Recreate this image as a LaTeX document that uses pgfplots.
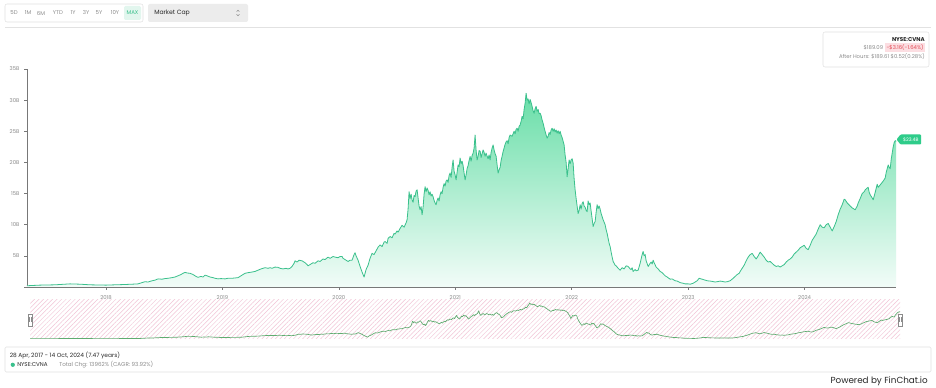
\documentclass[border=0pt]{standalone}
\usepackage{pgfplots}
\pgfplotsset{compat=1.18}
\usepackage{pgfplotstable}
\usepackage{fontspec}
\setmainfont{Poppins}
\usetikzlibrary{patterns.meta}
\definecolor{linegreen}{RGB}{58,192,140}
\definecolor{filltop}{RGB}{105,222,168}
\definecolor{fillbot}{RGB}{242,252,248}
\definecolor{navline}{RGB}{95,172,112}
\definecolor{navpink}{RGB}{242,196,214}
\definecolor{taggreen}{RGB}{46,204,138}
\definecolor{bordergray}{RGB}{226,226,226}
\definecolor{graybg}{RGB}{236,236,236}
\definecolor{mintbg}{RGB}{226,246,238}
\definecolor{txtgray}{RGB}{140,140,140}
\definecolor{txtdark}{RGB}{40,40,40}
\definecolor{redtxt}{RGB}{225,70,80}
\definecolor{redbg}{RGB}{252,222,226}
\definecolor{axgray}{RGB}{120,120,120}

% px = horizontal position reading (converted to years below), b = market cap in billions USD
\pgfplotstableread{
px b
27 0.2
40 0.3
55 0.35
70 0.5
80 0.45
90 0.35
106 0.3
115 0.35
125 0.4
132 0.45
138 0.5
142 0.7
145 0.85
148 0.8
152 1.0
155 1.1
158 1.3
162 1.25
165 1.35
168 1.4
172 1.5
175 1.6
178 1.8
181 2.0
183 2.2
185 2.35
187 2.25
190 2.2
193 2.0
196 1.7
198 1.55
201 1.7
203 1.6
205 1.9
207 1.8
210 1.6
213 1.5
215 1.4
218 1.3
221 1.35
225 1.3
228 1.4
232 1.4
235 1.45
238 1.5
241 1.8
243 2.0
245 2.2
248 2.3
252 2.4
255 2.5
258 2.7
261 2.9
263 3.0
265 3.1
268 3.0
270 3.1
272 3.0
275 3.2
278 3.15
280 3.0
283 2.9
286 3.0
288 2.9
290 3.0
292 3.3
294 3.8
295 4.2
297 4.0
299 4.3
302 4.2
304 4.0
305 3.9
307 3.6
308 3.4
310 3.6
313 3.9
315 3.8
318 4.2
320 4.1
323 4.5
325 4.4
328 4.8
330 4.6
333 4.9
335 4.8
338 4.7
340 4.9
342 4.9
343 4.6
345 4.4
347 4.2
348 4.1
350 4.3
352 4.3
354 5.2
355 5.5
356 5.0
358 4.3
360 3.3
362 2.4
364 1.6
366 2.8
368 3.5
370 4.6
372 5.4
374 5.2
376 5.8
378 6.4
380 6.75
382 6.5
384 7.2
385 7.3
387 7.0
388 7.8
390 8.1
392 7.9
394 8.6
395 8.5
397 9.0
398 8.8
400 9.4
402 9.9
404 9.6
406 10.3
407 10.8
408 12.5
409 15.3
410 14.2
411 14.9
412 14.0
413 13.6
414 14.7
415 14.5
416 15.4
417 15.6
418 14.3
419 13.0
420 12.4
421 12.9
422 11.6
423 12.8
424 14.9
425 16.1
426 15.3
427 15.9
428 15.5
429 14.8
430 15.3
431 14.6
432 14.9
433 14.5
434 13.9
435 13.5
436 13.2
437 13.9
438 14.3
439 13.8
440 14.8
441 15.3
442 15.0
443 16.0
444 16.6
445 16.2
446 17.0
447 17.2
448 16.8
449 17.9
450 18.3
451 17.6
452 19.2
453 20.4
454 18.6
455 18.0
456 17.2
457 18.4
458 19.6
459 19.3
460 20.7
461 19.8
462 20.2
463 19.5
464 18.3
465 17.2
466 18.0
467 19.0
468 19.5
469 20.3
470 20.95
471 20.2
472 21.1
473 21.5
474 22.3
475 24.4
476 22.0
477 20.4
478 21.0
479 21.9
480 21.8
481 20.8
482 21.4
483 22.0
484 21.6
485 21.0
486 21.5
487 21.0
488 20.6
489 21.2
490 20.4
491 21.6
492 22.3
493 22.8
494 22.0
495 21.4
496 21.0
497 19.6
498 18.3
499 18.8
500 19.2
501 20.3
502 21.0
503 21.75
504 22.3
505 22.9
506 23.3
507 23.5
508 23.0
509 24.0
510 24.4
512 24.2
514 25.0
515 24.6
516 25.3
517 25.5
518 25.0
519 25.8
520 26.0
521 26.6
522 27.4
523 27.0
524 28.5
525 29.5
526 31.1
527 30.0
528 30.2
529 29.4
530 30.1
531 29.6
532 29.0
533 28.3
534 27.9
535 28.6
536 29.0
537 28.2
538 28.5
539 27.8
540 27.9
541 27.5
542 26.8
543 26.3
544 25.6
545 25.0
546 24.4
547 23.9
548 24.2
549 24.8
550 24.5
551 25.2
552 25.5
553 25.0
554 25.4
555 24.9
556 25.2
557 24.7
558 25.1
559 24.6
560 25.0
561 24.4
562 24.0
563 23.4
564 22.8
565 21.2
566 20.0
567 17.7
568 19.0
569 20.4
570 19.8
571 20.4
572 20.6
573 19.9
574 17.4
575 15.6
576 14.2
577 13.0
578 11.8
579 12.3
580 13.2
581 12.5
582 13.4
583 13.7
584 13.0
585 12.8
586 12.3
587 12.1
588 13.8
589 13.2
590 13.5
591 12.2
592 11.0
593 9.7
594 10.2
595 10.5
596 12.0
597 13.2
598 12.6
599 13.0
600 12.5
601 11.8
602 11.3
603 10.8
604 10.4
605 10.0
606 9.2
607 8.6
608 7.8
609 7.0
610 6.5
611 5.6
612 4.8
613 4.1
614 3.8
615 3.5
616 3.4
618 3.0
620 2.7
622 3.1
624 2.9
626 3.4
628 3.3
630 2.9
631 2.8
632 3.1
633 2.5
635 2.8
636 2.6
638 2.7
640 3.8
641 4.5
642 5.2
643 5.7
644 5.0
645 5.2
646 4.2
648 3.3
650 3.8
651 4.0
652 3.7
653 4.3
654 3.9
656 3.2
658 2.9
660 2.5
662 2.3
665 1.8
667 1.6
670 1.25
672 1.3
675 1.0
677 0.95
680 0.7
683 0.6
685 0.5
688 0.5
690 0.45
693 0.6
695 0.8
697 1.0
699 1.4
701 1.3
703 1.2
705 1.1
707 1.0
710 0.95
712 0.9
715 0.8
717 0.85
720 0.95
722 0.9
725 0.8
727 0.85
730 1.0
733 1.4
735 1.7
737 2.0
739 2.2
740 2.5
742 3.0
744 3.5
746 4.2
748 4.8
750 5.2
752 5.4
754 4.9
756 4.5
758 5.0
760 5.6
762 5.2
764 4.8
766 4.3
768 4.0
770 4.1
772 3.8
774 3.5
776 3.3
778 3.4
780 3.2
782 3.4
784 3.6
786 4.0
788 4.3
790 4.5
792 4.8
794 5.3
796 5.6
798 5.9
800 6.3
802 6.5
804 6.7
806 6.2
808 6.0
810 6.7
812 7.5
814 8.0
816 8.5
818 9.3
820 10.0
822 9.6
824 9.5
826 10.0
828 10.2
830 9.6
832 9.0
834 9.7
836 10.5
838 11.6
840 12.5
842 13.2
844 14.1
845 14.0
847 13.5
850 13.0
852 12.7
855 12.4
857 13.0
858 13.5
860 14.2
862 15.0
864 15.3
865 15.6
867 15.9
868 16.0
869 15.2
870 14.8
872 14.3
873 14.0
875 15.2
877 16.5
878 16.0
880 16.4
882 16.8
883 17.0
885 17.5
886 18.4
888 19.6
889 19.2
890 19.0
891 20.5
892 21.5
893 22.5
894 23.2
895 23.5
896 23.4
}\mcap

\begin{document}
\begin{tikzpicture}
\path[use as bounding box, fill=white] (0,0) rectangle (702pt,291pt);

% navigator background hatch
\fill[pattern={Lines[angle=45,distance=2.4pt,line width=0.35pt]}, pattern color=navpink]
  (22.5pt,36.75pt) rectangle (675pt,66pt);

\begin{axis}[
  at={(20.25pt,75.75pt)}, anchor=south west,
  scale only axis, width=651.75pt, height=163.5pt,
  xmin=2017.3213, xmax=2024.785, ymin=0, ymax=35,
  axis x line=bottom, axis y line=left,
  axis line style={draw=axgray, line width=0.5pt, -},
  tick style={draw=axgray, line width=0.4pt},
  tick align=outside, major tick length=2.2pt,
  xtick={2018,2019,2020,2021,2022,2023,2024},
  xticklabels={2018,2019,2020,2021,2022,2023,2024},
  ytick={0,5,10,15,20,25,30,35},
  yticklabels={{},5B,10B,15B,20B,25B,30B,35B},
  /pgf/number format/assume math mode=true,
  tick label style={font=\fontsize{4}{5}\selectfont, text=txtgray},
  xticklabel style={yshift=-1pt},
  clip=false,
]
\addplot[draw=none, top color=filltop, bottom color=fillbot]
  table[x expr={2017.0893+\thisrow{px}/116.4}, y=b]{\mcap} \closedcycle;
\addplot[linegreen, line width=0.6pt, line join=round]
  table[x expr={2017.0893+\thisrow{px}/116.4}, y=b]{\mcap};
\end{axis}

\begin{axis}[
  at={(22.5pt,36.75pt)}, anchor=south west,
  scale only axis, width=652.5pt, height=29.25pt,
  xmin=2017.3213, xmax=2024.785, ymin=0, ymax=33.7,
  axis lines=none, xtick=\empty, ytick=\empty,
]
\addplot[navline, line width=0.5pt, line join=round]
  table[x expr={2017.0893+\thisrow{px}/116.4}, y=b]{\mcap};
\end{axis}

\begin{scope}[x=0.75pt, y=-0.75pt, shift={(0pt,291pt)}]
  % range buttons
  \draw[bordergray, fill=white, rounded corners=1.5pt] (5,4) rectangle (143,22);
  \fill[mintbg, rounded corners=1pt] (124,6) rectangle (141,20);
  \begin{scope}[every node/.style={font=\fontsize{4.1}{5}\selectfont, text=txtgray, inner sep=0pt}]
    \node at (14,13) {5D};
    \node at (28,13) {1M};
    \node at (41,13) {6M};
    \node at (58,13) {YTD};
    \node at (73,13) {1Y};
    \node at (86,13) {3Y};
    \node at (99,13) {5Y};
    \node at (115,13) {10Y};
    \node[text=linegreen] at (132.5,13) {MAX};
  \end{scope}
  % dropdown
  \fill[graybg, rounded corners=1.5pt] (148,4) rectangle (248,22);
  \node[anchor=west, inner sep=0pt, font=\fontsize{4.6}{5}\selectfont, text=txtdark] at (154,13.3) {Market Cap};
  \draw[txtgray, line width=0.4pt] (236.6,11.6)--(238,10.2)--(239.4,11.6);
  \draw[txtgray, line width=0.4pt] (236.6,14.4)--(238,15.8)--(239.4,14.4);
  % separator
  \draw[bordergray, line width=0.4pt] (5,27.5)--(931,27.5);
  % info box
  \draw[bordergray, fill=white, rounded corners=1.5pt] (823,32) rectangle (929,67);
  \node[anchor=east, inner sep=0pt, font=\fontsize{4.2}{5}\selectfont\bfseries, text=txtdark] at (925,39.5) {NYSE:CVNA};
  \node[anchor=east, inner sep=0.9pt, fill=redbg, font=\fontsize{4}{5}\selectfont, text=redtxt] (chg) at (925,47.5) {-\$3.16(-1.64\%)};
  \node[anchor=east, inner sep=0pt, font=\fontsize{4}{5}\selectfont, text=txtgray] at ([xshift=-1.2pt]chg.west) {\$189.09};
  \node[anchor=east, inner sep=0pt, font=\fontsize{4}{5}\selectfont, text=txtgray] at (925,57) {After Hours: \$189.61 \$0.52(0.28\%)};
  % last value tag
  \fill[taggreen, rounded corners=0.6pt] (896.5,139.5)--(900.5,134.5)--(921,134.5)--(921,144.5)--(900.5,144.5)--cycle;
  \node[inner sep=0pt, font=\fontsize{3.6}{4}\selectfont, text=white] at (910.8,139.6) {\$23.4B};
  % navigator handles
  \draw[txtgray, fill=white, line width=0.3pt] (28,314) rectangle (32,326);
  \draw[txtgray, line width=0.25pt] (29.3,317.5)--(29.3,322.5) (30.7,317.5)--(30.7,322.5);
  \draw[txtgray, fill=white, line width=0.3pt] (898,314) rectangle (902,326);
  \draw[txtgray, line width=0.25pt] (899.3,317.5)--(899.3,322.5) (900.7,317.5)--(900.7,322.5);
  % summary box
  \draw[bordergray, fill=white, rounded corners=1pt] (5,347) rectangle (931,372);
  \node[anchor=west, inner sep=0pt, font=\fontsize{4.4}{5}\selectfont, text=txtdark] at (9.5,355.5) {28 Apr, 2017 - 14 Oct, 2024 (7.47 years)};
  \fill[linegreen] (12.8,364.8) circle (2.1);
  \node[anchor=west, inner sep=0pt, font=\fontsize{4.2}{5}\selectfont, text=txtdark] at (17,364.8) {NYSE:CVNA};
  \node[anchor=west, inner sep=0pt, font=\fontsize{4.2}{5}\selectfont, text=txtgray] at (59,364.8) {Total Chg: 13962\% (CAGR: 93.92\%)};
  % credit
  \node[anchor=east, inner sep=0pt, font=\fontsize{6.6}{7}\selectfont, text=txtdark] at (928,381.5) {Powered by FinChat.io};
\end{scope}
\end{tikzpicture}
\end{document}
